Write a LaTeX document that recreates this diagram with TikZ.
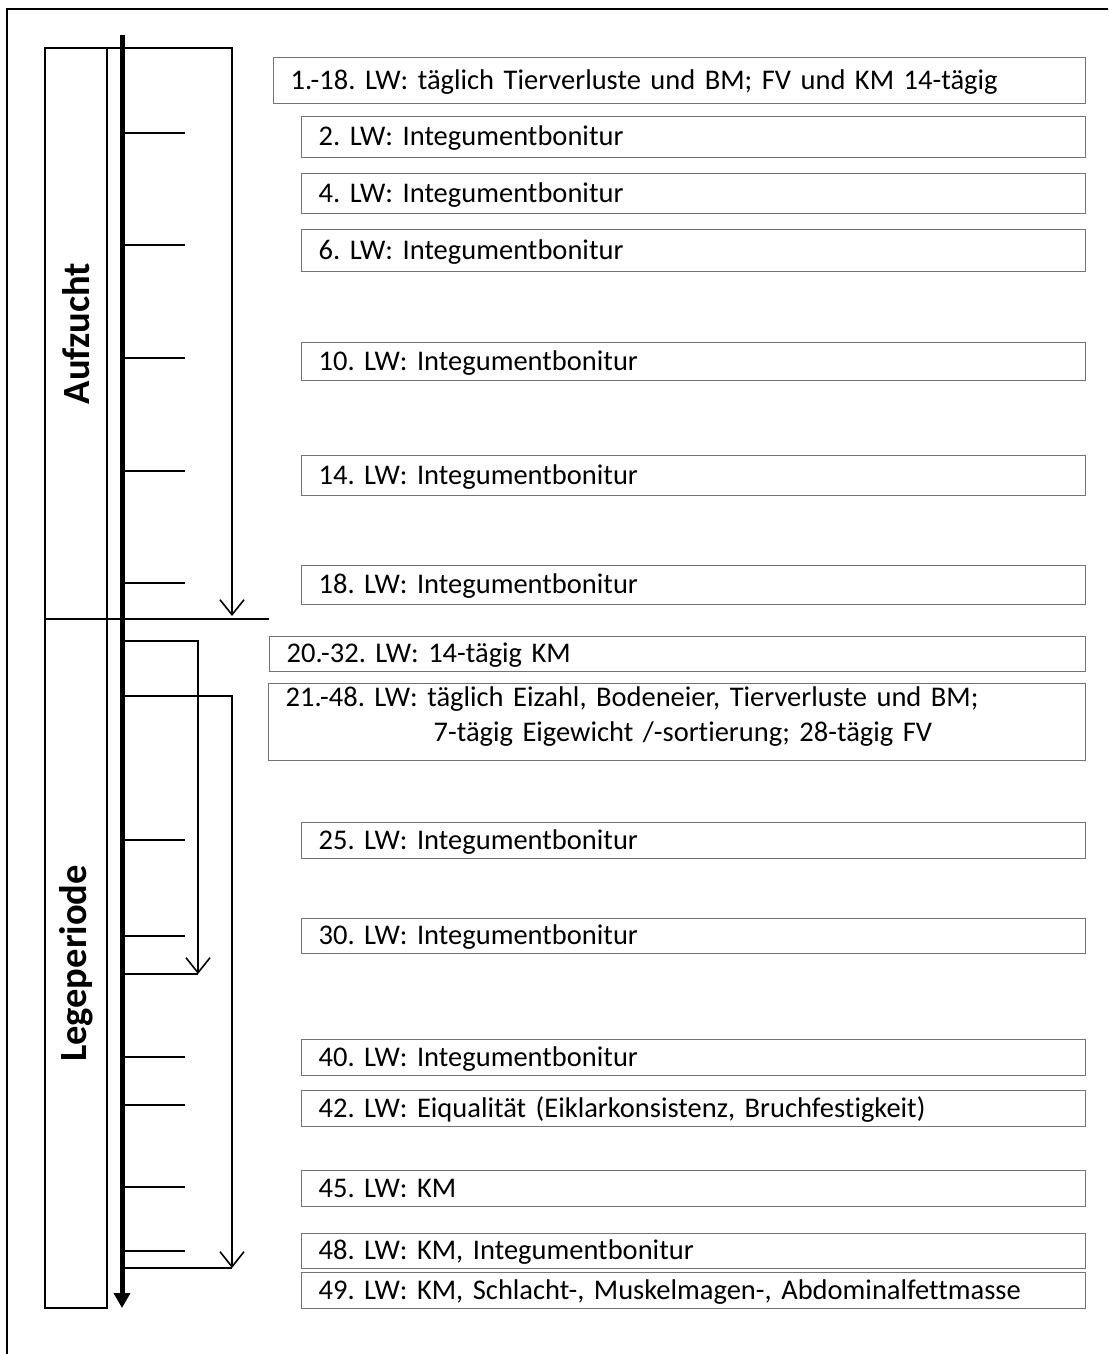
\documentclass[tikz,border=0pt]{standalone}
\usepackage{fontspec}
\setmainfont{Carlito}[Ligatures=NoCommon]
\usetikzlibrary{arrows.meta}
\frenchspacing

\begin{document}
\begin{tikzpicture}[x=1pt, y=-1pt,
    entry/.style = {shape=rectangle, draw=black!55, line width=1.3pt,
      anchor=north west, align=left, inner xsep=17pt, inner ysep=0pt,
      font=\fontsize{28.5}{35}\selectfont, text height=19pt, text depth=2pt,
      minimum width=784pt, text width=750pt},
    phase/.style = {shape=rectangle, draw, line width=1.6pt, rotate=90,
      minimum height=62pt, font=\fontsize{38.5}{44}\selectfont\bfseries},
    tick/.style = {line width=1.4pt},
    span/.style = {line width=1.6pt},
    spanarrow/.style = {span, -{Straight Barb[length=15pt, width=24pt]}}]

  \clip (0,0) rectangle (1108,1354);
  \draw[line width=2pt] (7,9) rectangle (1120,1370);

  \node[phase, minimum width=571pt] (aufzucht) at (76,333.5) {Aufzucht};
  \node[phase, minimum width=689pt] (lege) at (76,963.5) {Legeperiode};

  \coordinate (tltop) at (122,35);
  \coordinate (tlend) at (122,1308);
  \draw[line width=5pt, -{Triangle[length=15pt, width=16pt]}] (tltop) -- (tlend);

  \foreach \y in {133,245,358,471,583,840,936,1057,1105,1187,1251}
    \draw[tick] (tltop |- 0,\y) -- (185,\y);

  \draw[line width=2.5pt] (45,619) -- (269,619);
  \draw[spanarrow] (107,48) -| (232,616);
  \draw[spanarrow] (tltop |- 0,641) -| (198,974);
  \draw[span] (tltop |- 0,974) -- (198,974);
  \draw[spanarrow] (tltop |- 0,696) -| (232,1268);
  \draw[span] (tltop |- 0,1268) -- (232,1268);

  \node[entry, minimum width=812pt, text width=778pt, minimum height=46pt] (lw1) at (273,57)
    {1.-18. LW: täglich Tierverluste und BM; FV und KM 14-tägig};
  \node[entry, minimum height=41pt] (lw2) at (301,116) {2. LW: Integumentbonitur};
  \node[entry, minimum height=40pt] (lw4) at (301,173) {4. LW: Integumentbonitur};
  \node[entry, minimum height=42pt] (lw6) at (301,229) {6. LW: Integumentbonitur};
  \node[entry, minimum height=38pt] (lw10) at (301,342) {10. LW: Integumentbonitur};
  \node[entry, minimum height=40pt] (lw14) at (301,455) {14. LW: Integumentbonitur};
  \node[entry, minimum height=39pt] (lw18) at (301,565) {18. LW: Integumentbonitur};
  \node[entry, minimum width=816pt, text width=782pt, minimum height=35pt] (lw20) at (269,636)
    {20.-32. LW: 14-tägig KM};
  \node[entry, minimum width=817pt, text width=783pt, minimum height=77pt, text depth=51pt] (lw21) at (268,683)
    {21.-48. LW: täglich Eizahl, Bodeneier, Tierverluste und BM;\\
     \hspace*{148pt}7-tägig Eigewicht /-sortierung; 28-tägig FV};
  \node[entry, minimum height=36pt] (lw25) at (301,822) {25. LW: Integumentbonitur};
  \node[entry, minimum height=35pt] (lw30) at (301,918) {30. LW: Integumentbonitur};
  \node[entry, minimum height=36pt] (lw40) at (301,1039) {40. LW: Integumentbonitur};
  \node[entry, minimum height=36pt] (lw42) at (301,1090)
    {42. LW: Eiqualität (Eiklarkonsistenz, Bruchfestigkeit)};
  \node[entry, minimum height=36pt] (lw45) at (301,1170) {45. LW: KM};
  \node[entry, minimum height=35pt] (lw48) at (301,1233) {48. LW: KM, Integumentbonitur};
  \node[entry, minimum height=36pt] (lw49) at (301,1272)
    {49. LW: KM, Schlacht-, Muskelmagen-, Abdominalfettmasse};
\end{tikzpicture}
\end{document}
